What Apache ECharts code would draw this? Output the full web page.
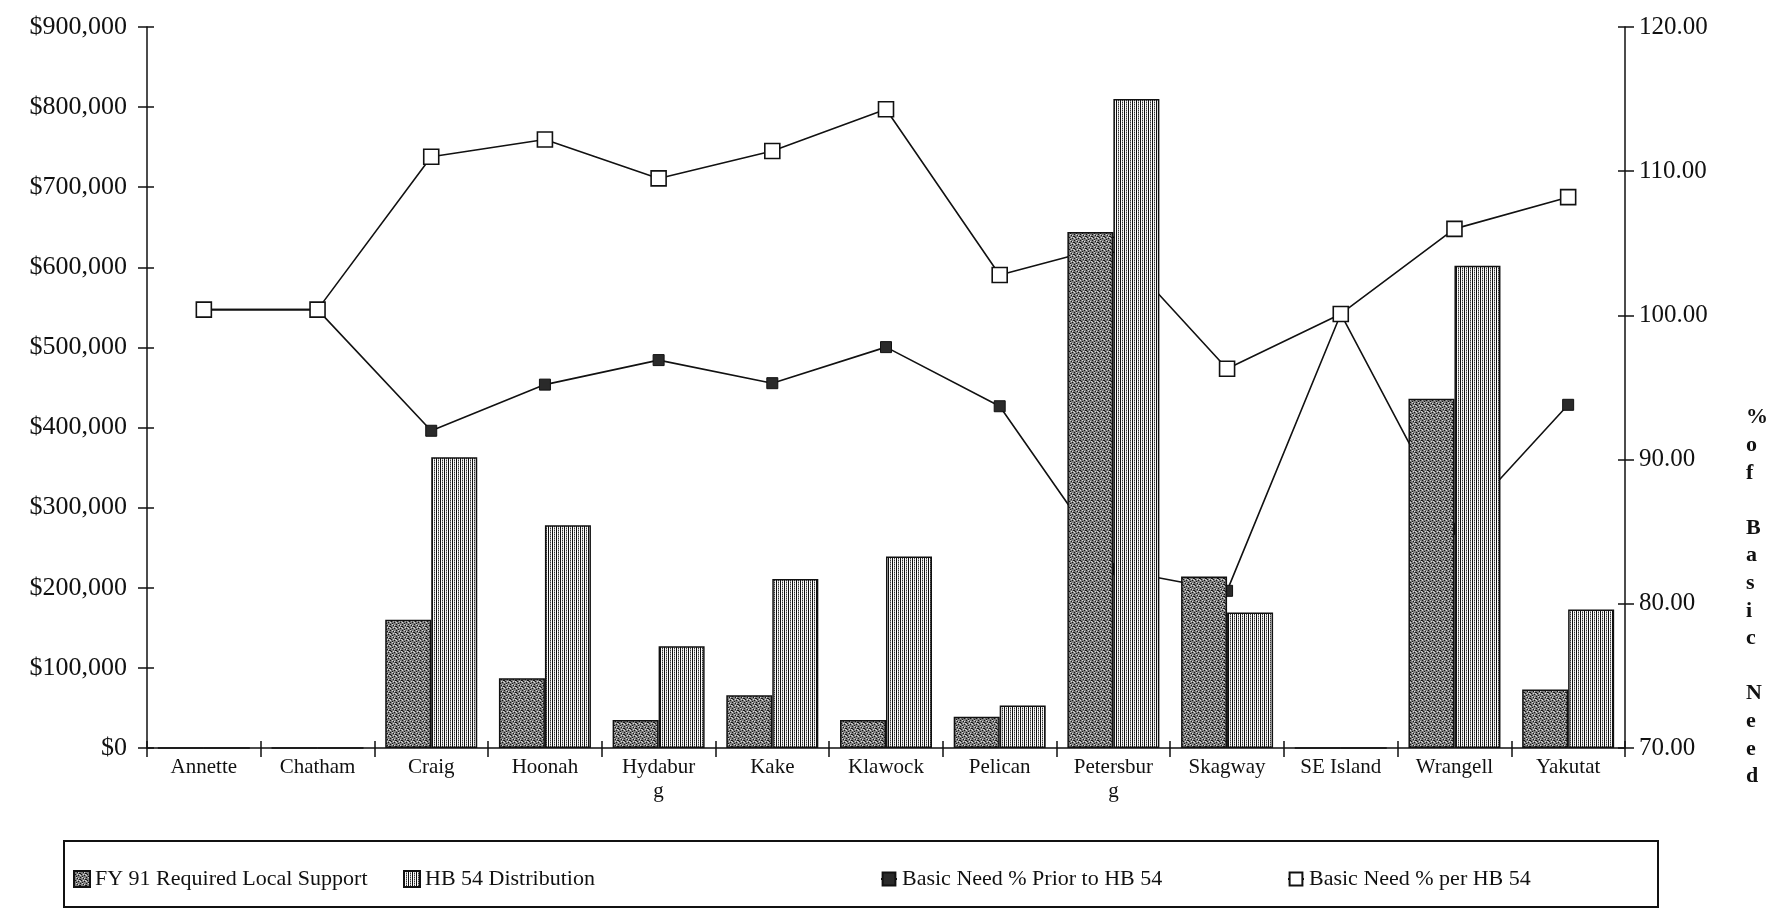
<!DOCTYPE html>
<html><head><meta charset="utf-8">
<script src="https://cdn.jsdelivr.net/npm/echarts@6/dist/echarts.min.js"></script>
<style>html,body{margin:0;padding:0;background:#fff}#c{width:1775px;height:910px}</style>
</head><body><div id="c"></div>
<script>
const categories = ['Annette','Chatham','Craig','Hoonah','Hydaburg','Kake','Klawock','Pelican','Petersburg','Skagway','SE Island','Wrangell','Yakutat'];
const localSupport = [0,0,160000,87000,35000,66000,35000,39000,644000,214000,0,436000,73000];
const hb54Distribution = [0,0,363000,278000,127000,211000,239000,53000,810000,169000,0,602000,173000];
const needPrior = [100.4,100.4,92.0,95.2,96.9,95.3,97.8,93.7,82.4,80.9,100.1,85.2,93.8];
const needPer = [100.4,100.4,111.0,112.2,109.5,111.4,114.3,102.8,104.9,96.3,100.1,106.0,108.2];
const seriesNames = ['FY 91 Required Local Support','HB 54 Distribution','Basic Need % Prior to HB 54','Basic Need % per HB 54'];
const labelBreaks = {'Hydaburg':'Hydabur\ng','Petersburg':'Petersbur\ng'};
const rightAxisTitle = ['%','o','f','','B','a','s','i','c','','N','e','e','d'];

function makePattern(w,h,draw){const c=document.createElement('canvas');c.width=w;c.height=h;draw(c.getContext('2d'));return c;}
const stipple = makePattern(6,6,g=>{
  g.fillStyle='#7e7e7e';g.fillRect(0,0,6,6);
  g.fillStyle='#141414';[[0,0],[3,1],[1,3],[4,4],[2,5],[5,2],[0,2]].forEach(p=>g.fillRect(p[0],p[1],1,1));
  g.fillStyle='#d8d8d8';[[2,0],[5,3],[0,4],[3,3],[4,1]].forEach(p=>g.fillRect(p[0],p[1],1,1));
});
const stripes = makePattern(4,4,g=>{
  g.fillStyle='#fafafa';g.fillRect(0,0,4,4);
  g.fillStyle='#0e0e0e';g.fillRect(0,0,1,4);
  g.fillStyle='#3a3a3a';g.fillRect(2,0,1,1);g.fillRect(2,2,1,1);
  g.fillStyle='#9a9a9a';g.fillRect(2,1,1,1);g.fillRect(2,3,1,1);
});

const FONT = 'Liberation Serif';
const black = '#111';
const chart = echarts.init(document.getElementById('c'));
const legendBase = {orient:'horizontal',top:863,itemWidth:16,itemHeight:16,itemGap:10,
  textStyle:{fontFamily:FONT,fontSize:22,color:black}};
const tickStyle = {color:black,width:1.5};
chart.setOption({
  animation:false,
  backgroundColor:'#fff',
  grid:{left:147,right:150,top:27,bottom:162},
  legend:[
    Object.assign({left:68,data:[{name:seriesNames[0],icon:'rect'}]},legendBase),
    Object.assign({left:398,data:[{name:seriesNames[1],icon:'rect'}]},legendBase),
    Object.assign({left:875,data:[seriesNames[2]]},legendBase),
    Object.assign({left:1282,data:[seriesNames[3]]},legendBase)
  ],
  xAxis:[
    {type:'category',data:categories,
     axisLine:{lineStyle:{color:black,width:1.5}},
     axisTick:{show:true,interval:0,length:9,lineStyle:tickStyle},
     axisLabel:{interval:0,margin:7,fontFamily:FONT,fontSize:21,color:black,lineHeight:24,
       formatter:v=>labelBreaks[v]||v}},
    {type:'category',data:categories,position:'bottom',
     axisLine:{show:false},
     axisTick:{show:true,inside:true,interval:0,length:7,lineStyle:tickStyle},
     axisLabel:{show:false}}
  ],
  yAxis:[
    {type:'value',min:0,max:900000,interval:100000,position:'left',
     axisLine:{show:true,lineStyle:{color:black,width:1.5}},
     axisTick:{show:true,length:9,lineStyle:tickStyle},
     splitLine:{show:false},
     axisLabel:{margin:20,fontFamily:FONT,fontSize:26,color:black,
       formatter:v=>'$'+v.toLocaleString('en-US')}},
    {type:'value',min:70,max:120,interval:10,position:'right',
     axisLine:{show:true,lineStyle:{color:black,width:1.5}},
     axisTick:{show:true,length:9,lineStyle:tickStyle},
     splitLine:{show:false},
     axisLabel:{margin:14,fontFamily:FONT,fontSize:25,color:black,formatter:v=>v.toFixed(2)}},
    {type:'value',min:0,max:900000,interval:100000,position:'left',
     axisLine:{show:false},axisTick:{show:true,inside:true,length:7,lineStyle:tickStyle},
     splitLine:{show:false},axisLabel:{show:false}},
    {type:'value',min:70,max:120,interval:10,position:'right',
     axisLine:{show:false},axisTick:{show:true,inside:true,length:7,lineStyle:tickStyle},
     splitLine:{show:false},axisLabel:{show:false}}
  ],
  graphic:[
    {type:'rect',shape:{x:64,y:841,width:1594,height:66},style:{fill:'none',stroke:black,lineWidth:2}},
    {type:'text',left:1746,top:404,style:{text:rightAxisTitle.join('\n'),fontFamily:FONT,fontSize:22,fontWeight:'bold',lineHeight:27.6,fill:black,align:'center'}}
  ],
  series:[
    {name:seriesNames[0],type:'bar',yAxisIndex:0,data:localSupport,barWidth:46,barGap:'0%',z:3,
     itemStyle:{color:{image:stipple,repeat:'repeat'},borderColor:black,borderWidth:1.5}},
    {name:seriesNames[1],type:'bar',yAxisIndex:0,data:hb54Distribution,barWidth:46,barGap:'0%',z:3,
     itemStyle:{color:{image:stripes,repeat:'repeat'},borderColor:black,borderWidth:1.5}},
    {name:seriesNames[2],type:'line',yAxisIndex:1,data:needPrior,z:2,symbol:'rect',symbolSize:11,
     lineStyle:{color:black,width:1.6},itemStyle:{color:'#2a2a2a',borderColor:black,borderWidth:1}},
    {name:seriesNames[3],type:'line',yAxisIndex:1,data:needPer,z:2,symbol:'rect',symbolSize:15,
     lineStyle:{color:black,width:1.6},itemStyle:{color:'#fff',borderColor:black,borderWidth:1.6}}
  ]
});
</script></body></html>
